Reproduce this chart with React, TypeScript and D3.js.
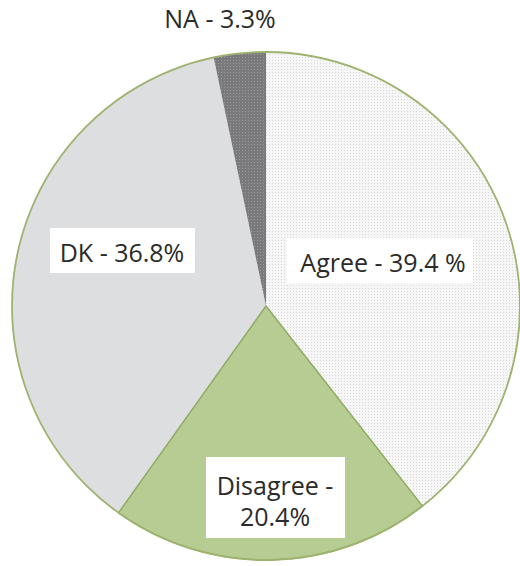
import React from "react";
import * as d3 from "d3";

const categories = ["Agree", "Disagree", "DK", "NA"];
const values = [39.4, 20.4, 36.8, 3.3];
const labelLines = [["Agree - 39.4 %"], ["Disagree -", "20.4%"], ["DK - 36.8%"], ["NA - 3.3%"]];

const fills = ["url(#dotsLight)", "#b6cc92", "#dddee0", "url(#dotsDark)"];
// label layout: text centre x, first baseline y, optional box
const labelLayout = [
  { x: 383, y: 272, box: [287, 238, 186, 45] },
  { x: 275, y: 495, box: [206, 457, 139, 81] },
  { x: 122, y: 262, box: [50, 228, 145, 45] },
  { x: 220, y: 28, box: null as number[] | null },
];

export default function App() {
  const W = 520, H = 566;
  const cx = 266, cy = 306, r = 254;
  const pie = d3.pie<number>().sort(null).value((d) => d);
  const arcs = pie(values);
  const arc = d3.arc<d3.PieArcDatum<number>>().innerRadius(0).outerRadius(r);
  return (
    <svg width={W} height={H} style={{ position: "absolute", left: 0, top: 0, background: "#fff" }}>
      <defs>
        <pattern id="dotsLight" width="3" height="3" patternUnits="userSpaceOnUse">
          <rect width="3" height="3" fill="#f6f6f6" />
          <rect width="1" height="1" fill="#d9d9d9" />
        </pattern>
        <pattern id="dotsDark" width="3" height="3" patternUnits="userSpaceOnUse">
          <rect width="3" height="3" fill="#7a7a7c" />
          <rect width="1" height="1" fill="#9a9a9c" />
        </pattern>
      </defs>
      <g transform={`translate(${cx},${cy})`}>
        {arcs.map((a, i) => (
          <path key={categories[i]} d={arc(a) || ""} fill={fills[i]} />
        ))}
        <path d={arc(arcs[1]) || ""} fill="none" stroke="#8faa62" strokeWidth={1.5} />
        <circle r={r} fill="none" stroke="#9db36f" strokeWidth={1.8} />
      </g>
      {labelLayout.map((l, i) => (
        <g key={categories[i]}>
          {l.box && <rect x={l.box[0]} y={l.box[1]} width={l.box[2]} height={l.box[3]} fill="#ffffff" />}
          <text
            x={l.x}
            y={l.y}
            textAnchor="middle"
            fontFamily="'Open Sans', sans-serif"
            fontSize={25}
            fill="#2b2b2b"
          >
            {labelLines[i].map((s, j) => (
              <tspan key={j} x={l.x} dy={j === 0 ? 0 : 31}>
                {s}
              </tspan>
            ))}
          </text>
        </g>
      ))}
    </svg>
  );
}
